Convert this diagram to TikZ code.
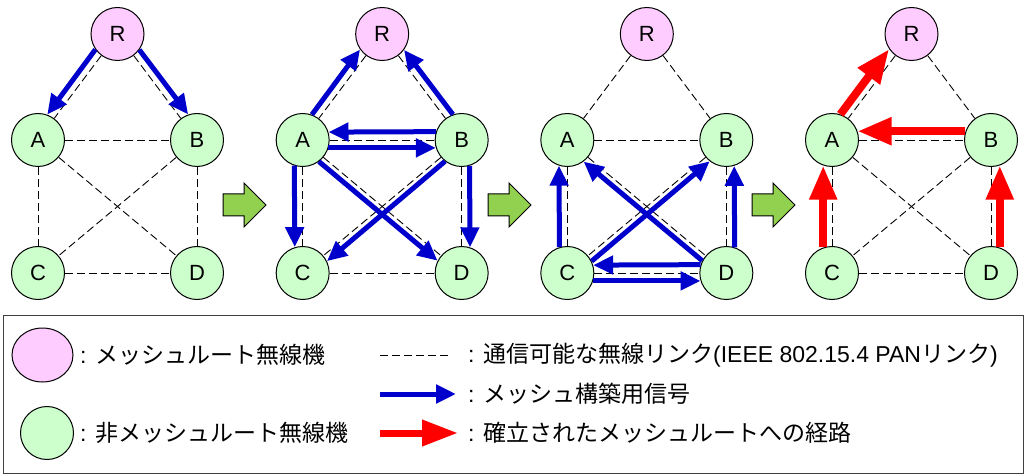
\documentclass[tikz,border=0pt]{standalone}
\usepackage{fontspec}
\setmainfont{Liberation Sans}
\newfontfamily\jpfont{Noto Sans CJK JP}
\usetikzlibrary{arrows.meta,shapes.geometric}
\definecolor{pinkfill}{HTML}{FFCCFF}
\definecolor{greenfill}{HTML}{CCFFCC}
\definecolor{meshblue}{HTML}{0000CC}
\definecolor{pathred}{HTML}{FF0000}
\definecolor{stepgreen}{HTML}{92D050}
\definecolor{boxgray}{HTML}{404040}
\newcommand\offarrow[5]{%
  \pgfmathsetmacro\myoffA{#4+#5}%
  \pgfmathsetmacro\myoffB{#4+180-#5}%
  \draw[#1] (#2.\myoffA) -- (#3.\myoffB);}
\tikzset{
  radionode/.style={circle, draw=black, line width=1pt, minimum size=53pt, inner sep=0pt,
    font=\fontsize{22}{26}\selectfont},
  rootnode/.style={radionode, fill=pinkfill},
  plainnode/.style={radionode, fill=greenfill},
  dashline/.style={black, line width=0.9pt, dash pattern=on 8pt off 4pt},
  barrow/.style={meshblue, line width=5pt, -{Triangle[length=20pt,width=18pt]}},
  rarrow/.style={pathred, line width=8pt, -{Triangle[length=34pt,width=26pt]}},
  steparrow/.style={fill=stepgreen, draw=black, line width=1pt, line join=miter},
  legtext/.style={anchor=west, inner sep=0pt, font=\fontsize{23}{27}\selectfont},
}
\begin{document}
\begin{tikzpicture}[x=1pt,y=-1pt]
\useasboundingbox (0,0) rectangle (1029,476);
% panels
\foreach \k/\x in {1/38,2/302.67,3/567.33,4/832}{
  \node[rootnode]  (R\k) at (\x+79.5,34) {R};
  \node[plainnode] (A\k) at (\x,140) {A};
  \node[plainnode] (B\k) at (\x+159,140) {B};
  \node[plainnode] (C\k) at (\x,273) {C};
  \node[plainnode] (D\k) at (\x+159,273) {D};
  \foreach \u/\v in {R/A,R/B,A/B,A/C,B/D,C/D,A/D,B/C}
    \draw[dashline] (\u\k) -- (\v\k);
}
% panel 1
\offarrow{barrow}{R1}{A1}{233.13}{-17.6}
\offarrow{barrow}{R1}{B1}{306.87}{17.6}
% panel 2
\offarrow{barrow}{A2}{R2}{53.13}{17.6}
\offarrow{barrow}{B2}{R2}{126.87}{-17.6}
\offarrow{barrow}{B2}{A2}{180}{-17.6}
\offarrow{barrow}{A2}{B2}{0}{-17.6}
\offarrow{barrow}{A2}{C2}{270}{-17.6}
\offarrow{barrow}{B2}{D2}{270}{17.6}
\offarrow{barrow}{A2}{D2}{320.08}{-13}
\offarrow{barrow}{B2}{C2}{219.92}{13}
% panel 3
\offarrow{barrow}{C3}{A3}{90}{17.6}
\offarrow{barrow}{D3}{B3}{90}{-17.6}
\offarrow{barrow}{D3}{C3}{180}{-17.6}
\offarrow{barrow}{C3}{D3}{0}{-17.6}
\offarrow{barrow}{D3}{A3}{140.08}{13}
\offarrow{barrow}{C3}{B3}{39.92}{-13}
% panel 4
\offarrow{rarrow}{A4}{R4}{53.13}{19}
\offarrow{rarrow}{B4}{A4}{180}{-19}
\offarrow{rarrow}{C4}{A4}{90}{19}
\offarrow{rarrow}{D4}{B4}{90}{-19}
% step arrows
\foreach \t in {223,488,752}{
  \draw[steparrow] (\t,194) -- (\t+21,194) -- (\t+21,183) -- (\t+43,205)
    -- (\t+21,227) -- (\t+21,216) -- (\t,216) -- cycle;
}
% legend
\draw[boxgray, line width=1pt] (3,315) rectangle (1023,473);
\node[ellipse, draw=black, line width=1pt, fill=pinkfill, minimum width=61pt,
  minimum height=54pt, inner sep=0pt] (legR) at (42.5,355) {};
\node[plainnode] (legN) at (47,433) {};
\node[legtext] (legRt) at (80,355) {: \jpfont メッシュルート無線機};
\node[legtext] (legNt) at (80,433) {: \jpfont 非メッシュルート無線機};
\coordinate (ld1) at (380,355);
\coordinate (ld2) at (451,355);
\draw[dashline] (ld1) -- (ld2);
\coordinate (lb1) at (380,394);
\coordinate (lb2) at (456,394);
\draw[barrow] (lb1) -- (lb2);
\coordinate (lr1) at (380,433);
\coordinate (lr2) at (458,433);
\draw[pathred, line width=7pt, -{Triangle[length=36pt,width=25pt]}] (lr1) -- (lr2);
\node[legtext] (ldt) at (468,355) {: \jpfont 通信可能な無線リンク{\normalfont(IEEE 802.15.4 PAN}リンク{\normalfont)}};
\node[legtext] (lbt) at (468,394) {: \jpfont メッシュ構築用信号};
\node[legtext] (lrt) at (468,433) {: \jpfont 確立されたメッシュルートへの経路};
\end{tikzpicture}
\end{document}
